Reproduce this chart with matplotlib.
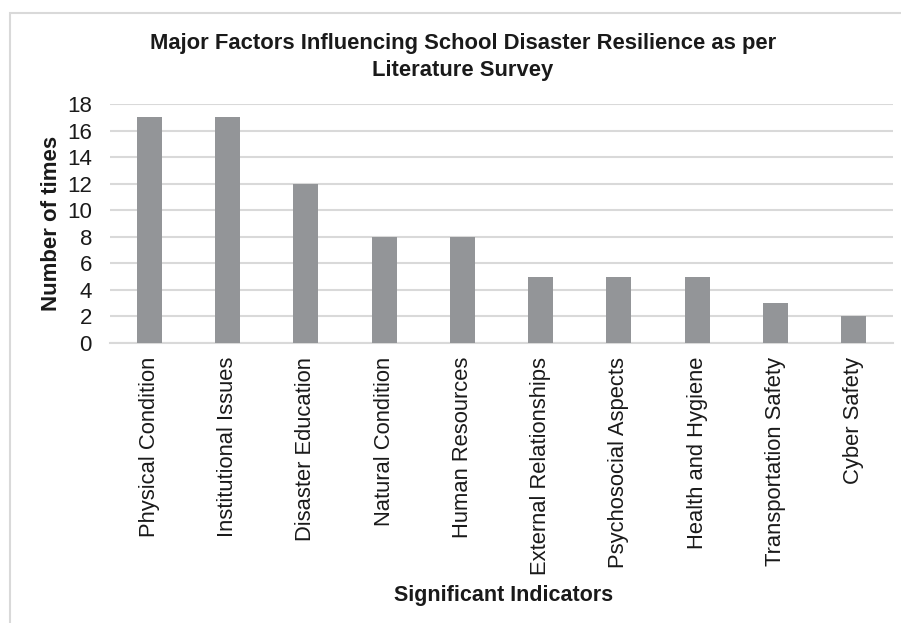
import matplotlib.pyplot as plt
from matplotlib.patches import Rectangle

categories = ['Physical Condition', 'Institutional Issues', 'Disaster Education',
              'Natural Condition', 'Human Resources', 'External Relationships',
              'Psychosocial Aspects', 'Health and Hygiene', 'Transportation Safety',
              'Cyber Safety']
counts = [17, 17, 12, 8, 8, 5, 5, 5, 3, 2]
yticks = [0, 2, 4, 6, 8, 10, 12, 14, 16, 18]

plt.rcParams['font.family'] = ['Liberation Sans', 'DejaVu Sans']

fig = plt.figure(figsize=(9.01, 6.23), dpi=100)
# chart border like excel (top and left visible)
fig.patches.append(Rectangle((10 / 901, -0.05), 1.2, 1 - 13 / 623 + 0.05,
                             transform=fig.transFigure, fill=False,
                             edgecolor='#d9d9d9', linewidth=1.5))

ax = fig.add_axes([110 / 901, 1 - 343 / 623, 783 / 901, 239 / 623])
x = range(len(categories))
ax.bar(x, counts, width=0.32, color='#939598', zorder=3)
ax.set_xlim(-0.5, len(categories) - 0.5)
ax.set_ylim(0, 18)
ax.set_yticks(yticks)
ax.set_xticks(list(x))
ax.set_xticklabels(categories, rotation=90, fontsize=15.8, color='#1a1a1a')
ax.tick_params(axis='y', labelsize=16, colors='#1a1a1a', length=0, pad=13)
ax.tick_params(axis='x', length=0, pad=10)
ax.grid(axis='y', color='#d9d9d9', linewidth=1.5, zorder=0)
for s in ['top', 'right', 'left']:
    ax.spines[s].set_visible(False)
ax.spines['bottom'].set_color('#d9d9d9')
ax.spines['bottom'].set_linewidth(1.5)

ax.set_ylabel('Number of times', fontsize=16, fontweight='bold', color='#1a1a1a')
ax.yaxis.set_label_coords((62 - 110) / 783, 0.5)
fig.text(504 / 901, 1 - 596 / 623, 'Significant Indicators', fontsize=15.5,
         fontweight='bold', color='#1a1a1a', ha='center', va='center')
fig.text(463 / 901, 1 - 57 / 623,
         'Major Factors Influencing School Disaster Resilience as per\nLiterature Survey',
         fontsize=15.8, fontweight='bold', color='#1a1a1a', ha='center', va='center',
         linespacing=1.35)

fig.savefig('out.png', dpi=100)
